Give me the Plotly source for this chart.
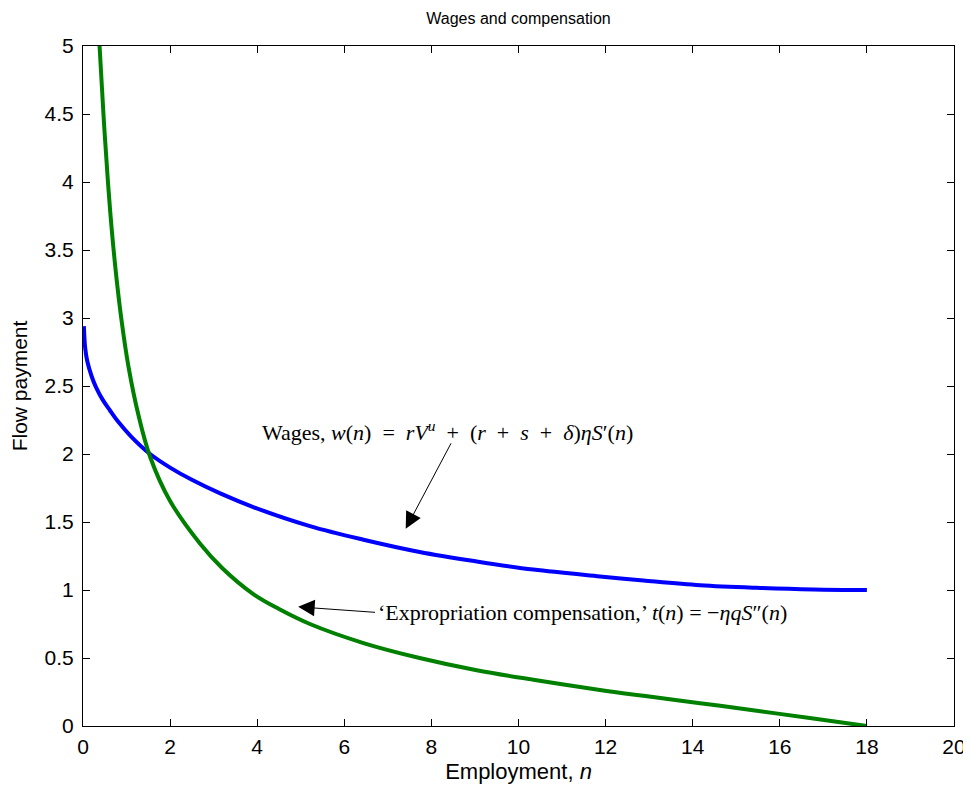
import plotly.graph_objects as go

# ---- data ----
wage_n = [0.02, 0.05, 0.1, 0.2, 0.3, 0.45, 0.62, 0.8, 1.1, 1.54, 2.0, 2.5, 3.15, 3.91,
          5.21, 6.44, 7.73, 9.04, 10.34, 11.87, 12.87, 14.17, 15.47, 16.77, 18.0]
wage_w = [2.94, 2.78, 2.68, 2.57, 2.49, 2.40, 2.32, 2.24, 2.13, 2.00, 1.90, 1.81, 1.71, 1.61,
          1.47, 1.37, 1.28, 1.21, 1.15, 1.10, 1.07, 1.035, 1.016, 1.004, 1.0]

comp_n = [0.38, 0.475, 0.575, 0.66, 0.77, 0.89, 1.04, 1.27, 1.54, 1.99, 2.69, 3.2, 3.91,
          4.5, 5.21, 6.44, 7.73, 9.04, 10.34, 11.87, 12.87, 14.17, 15.47, 16.77, 18.0]
comp_t = [5.0, 4.47, 3.99, 3.65, 3.29, 2.97, 2.65, 2.29, 1.98, 1.66, 1.34, 1.16, 0.97,
          0.86, 0.75, 0.61, 0.50, 0.41, 0.34, 0.265, 0.222, 0.168, 0.112, 0.055, 0.0]

x_ticks = [0, 2, 4, 6, 8, 10, 12, 14, 16, 18, 20]
x_tick_labels = ["0", "2", "4", "6", "8", "10", "12", "14", "16", "18", "20"]
y_ticks = [0, 0.5, 1, 1.5, 2, 2.5, 3, 3.5, 4, 4.5, 5]
y_tick_labels = ["0", "0.5", "1", "1.5", "2", "2.5", "3", "3.5", "4", "4.5", "5"]

title_text = "Wages and compensation"
x_label = "Employment, <i>n</i>"
y_label = "Flow payment"
SP = "\u2002"  # math spacing around operators
wage_label = ("Wages, <i>w</i>(<i>n</i>)" + SP + "=" + SP + "<i>rV</i><sup><i>u</i></sup>"
              + SP + "+" + SP + "(<i>r</i>" + SP + "+" + SP + "<i>s</i>" + SP + "+" + SP
              + "<i>δ</i>)<i>ηS</i>′(<i>n</i>)")
comp_label = ("‘Expropriation compensation,’ <i>t</i>(<i>n</i>) = "
              "−<i>ηqS</i>″(<i>n</i>)")

SANS = "Liberation Sans, Arial, sans-serif"
SERIF = "Liberation Serif, Times New Roman, serif"

fig = go.Figure()
fig.add_trace(go.Scatter(x=wage_n, y=wage_w, mode="lines",
                         line=dict(color="#0000FF", width=4, shape="spline", smoothing=1.0),
                         showlegend=False, hoverinfo="skip"))
fig.add_trace(go.Scatter(x=comp_n, y=comp_t, mode="lines",
                         line=dict(color="#008000", width=4, shape="spline", smoothing=1.0),
                         showlegend=False, hoverinfo="skip"))

axis_common = dict(showline=True, linecolor="black", linewidth=1, mirror="ticks",
                   ticks="inside", tickcolor="black", tickwidth=1, ticklen=7,
                   showgrid=False, zeroline=False, automargin=False,
                   tickfont=dict(family=SANS, size=21, color="black"))

fig.update_xaxes(range=[0, 20], tickvals=x_ticks, ticktext=x_tick_labels,
                 ticklabelstandoff=2,
                 title=dict(text=x_label, font=dict(family=SANS, size=22, color="black"), standoff=6),
                 **axis_common)
fig.update_yaxes(range=[0, 5], tickvals=y_ticks, ticktext=y_tick_labels,
                 ticklabelstandoff=4,
                 title=dict(text=y_label, font=dict(family=SANS, size=21, color="black"), standoff=12),
                 **axis_common)

annotations = [
    dict(x=8.37, y=2.17, xref="x", yref="y", text=wage_label, showarrow=False,
         font=dict(family=SERIF, size=22, color="black"), xanchor="center", yanchor="middle"),
    dict(x=7.41, y=1.45, ax=8.47, ay=2.09, xref="x", yref="y", axref="x", ayref="y",
         text="", showarrow=True, arrowhead=2, arrowsize=3.3, arrowwidth=1, arrowcolor="black"),
    dict(x=11.47, y=0.837, xref="x", yref="y", text=comp_label, showarrow=False,
         font=dict(family=SERIF, size=22, color="black"), xanchor="center", yanchor="middle"),
    dict(x=4.94, y=0.876, ax=6.74, ay=0.835, xref="x", yref="y", axref="x", ayref="y",
         text="", showarrow=True, arrowhead=2, arrowsize=3.3, arrowwidth=1, arrowcolor="black"),
]

# the page body adds an 8px offset; margins compensate so the axes land where the reference has them
fig.update_layout(
    width=971, height=788,
    margin=dict(l=75, r=25, t=38, b=70),
    paper_bgcolor="white", plot_bgcolor="white",
    title=dict(text=title_text, x=0.5, xref="paper", y=1 - 10 / 788, yref="container",
               xanchor="center", yanchor="middle",
               font=dict(family=SANS, size=16, color="black")),
    annotations=annotations,
)

fig.write_html("out.html")
